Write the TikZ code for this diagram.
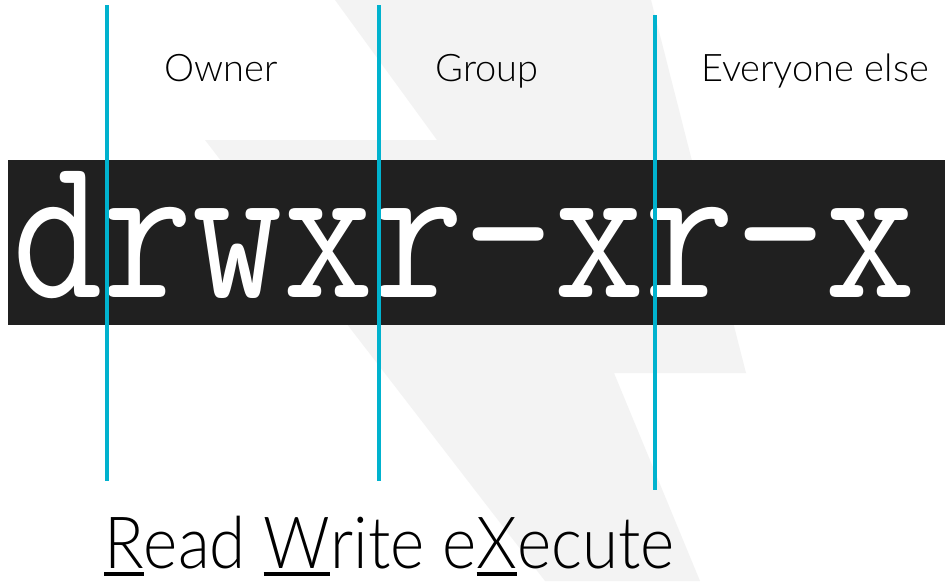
\documentclass[tikz,border=0pt]{standalone}
\usepackage{fontspec}
\setmainfont{Lato Light}
\definecolor{boltgray}{HTML}{F3F3F3}
\definecolor{barblack}{HTML}{202020}
\definecolor{linecyan}{HTML}{00B2CE}
\newcommand\myul[1]{\setbox0\hbox{#1}\rlap{\rule[-8pt]{\wd0}{4.5pt}}\box0}
\tikzset{
  divider/.style={draw=linecyan, line width=4.5pt},
  grouplabel/.style={inner sep=0pt, anchor=base, font=\fontsize{38}{44}\selectfont},
}
\begin{document}
\begin{tikzpicture}[x=1pt,y=-1pt]
\useasboundingbox (0,0) rectangle (945,581);
\fill[white] (0,0) rectangle (945,581);
% lightning bolt
\fill[boltgray] (335,0) -- (651,0) -- (746,373) -- (614,373) -- (700,581) -- (545,581) -- (205,140) -- (437,140) -- cycle;
% dark bar
\fill[barblack] (8,160) rectangle (945,325);
\node[inner sep=0pt, anchor=base west, text=white, font=\ttfamily\fontsize{172}{180}\selectfont] (perm) at (12,297) {\scalebox{1.02}[1.2]{drwxr-xr-x}};
% dividers
\coordinate (a1) at (107,5); \coordinate (a2) at (107,481);
\coordinate (b1) at (379,5); \coordinate (b2) at (379,481);
\coordinate (c1) at (655,15); \coordinate (c2) at (655,490);
\draw[divider] (a1) -- (a2);
\draw[divider] (b1) -- (b2);
\draw[divider] (c1) -- (c2);
% labels
\node[grouplabel] (owner) at (221,81) {Owner};
\node[grouplabel] (group) at (487,81) {Group};
\node[grouplabel] (else) at (815,81) {Everyone else};
\node[inner sep=0pt, anchor=base west, font=\fontsize{72}{80}\selectfont] (rwx) at (104,568) {\scalebox{0.91}[1]{\myul{R}ead \myul{W}rite e\myul{X}ecute}};
\end{tikzpicture}
\end{document}
